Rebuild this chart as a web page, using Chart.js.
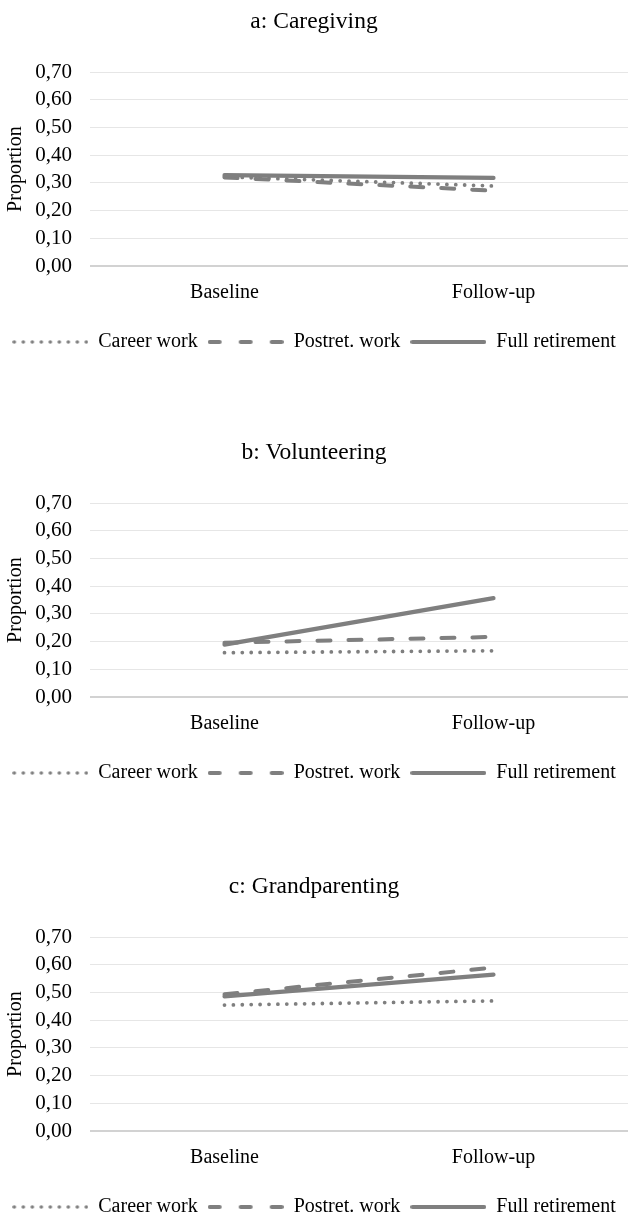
<!DOCTYPE html>
<html>
<head>
<meta charset="utf-8">
<script src="https://cdn.jsdelivr.net/npm/chart.js@4"></script>
<style>
  html, body { margin: 0; padding: 0; background: #fff; overflow: hidden; }
  .panel { position: absolute; left: 0; width: 628px; }
</style>
</head>
<body>
<div class="panel" style="top:0px"><canvas id="chartA" width="628" height="362"></canvas></div>
<div class="panel" style="top:431px"><canvas id="chartB" width="628" height="362"></canvas></div>
<div class="panel" style="top:865px"><canvas id="chartC" width="628" height="362"></canvas></div>
<script>
// data
const categories = ['Baseline', 'Follow-up'];
const seriesNames = ['Career work', 'Postret. work', 'Full retirement'];

const caregivingCareer = [0.322, 0.289];
const caregivingPostret = [0.320, 0.272];
const caregivingFull = [0.328, 0.318];

const volunteeringCareer = [0.160, 0.167];
const volunteeringPostret = [0.196, 0.217];
const volunteeringFull = [0.189, 0.357];

const grandparentingCareer = [0.455, 0.470];
const grandparentingPostret = [0.494, 0.590];
const grandparentingFull = [0.486, 0.565];

const yMin = 0;
const yMax = 0.7;
const yStep = 0.1;

const lineColor = '#7f7f7f';
const fontFamily = "'Liberation Serif', 'Times New Roman', serif";

// legend swatches drawn by hand so dots / dashes look like the original
function makeSwatch(kind) {
    const c = document.createElement('canvas');
    c.width = 76;
    c.height = 8;
    const g = c.getContext('2d');
    g.fillStyle = lineColor;
    g.strokeStyle = lineColor;
    if (kind === 'dot') {
        for (let i = 0; i < 9; i++) {
            g.beginPath();
            g.arc(2 + i * 9, 4, 1.8, 0, Math.PI * 2);
            g.fill();
        }
    } else if (kind === 'dash') {
        g.lineWidth = 4;
        g.lineCap = 'round';
        [[2, 12], [33, 43], [64, 74]].forEach(function(d) {
            g.beginPath();
            g.moveTo(d[0], 4);
            g.lineTo(d[1], 4);
            g.stroke();
        });
    } else {
        g.lineWidth = 4;
        g.lineCap = 'round';
        g.beginPath();
        g.moveTo(2, 4);
        g.lineTo(74, 4);
        g.stroke();
    }
    return c;
}

const swatches = [makeSwatch('dot'), makeSwatch('dash'), makeSwatch('solid')];

function makeChart(id, title, career, postret, full) {
    const ctx = document.getElementById(id).getContext('2d');
    return new Chart(ctx, {
        type: 'line',
        data: {
            labels: categories,
            datasets: [{
                label: seriesNames[0],
                data: career,
                borderColor: lineColor,
                borderWidth: 3.8,
                borderDash: [0, 8.9],
                borderCapStyle: 'round',
                order: 3
            }, {
                label: seriesNames[1],
                data: postret,
                borderColor: lineColor,
                borderWidth: 4,
                borderDash: [13, 18],
                borderCapStyle: 'round',
                order: 2
            }, {
                label: seriesNames[2],
                data: full,
                borderColor: lineColor,
                borderWidth: 4.2,
                borderCapStyle: 'round',
                order: 1
            }]
        },
        options: {
            responsive: false,
            animation: false,
            layout: { padding: 0 },
            elements: {
                point: { radius: 0 },
                line: { tension: 0, fill: false }
            },
            scales: {
                x: {
                    offset: true,
                    grid: { display: false },
                    border: { display: false },
                    ticks: {
                        color: '#000',
                        padding: 7,
                        font: { family: fontFamily, size: 20 }
                    },
                    afterFit: function(scale) { scale.height = 56; }
                },
                y: {
                    min: yMin,
                    max: yMax,
                    grid: {
                        drawTicks: false,
                        color: function(c) { return c.tick && c.tick.value === 0 ? '#d2d2d2' : '#e6e6e6'; },
                        lineWidth: function(c) { return c.tick && c.tick.value === 0 ? 2 : 1; }
                    },
                    border: { display: false },
                    ticks: {
                        stepSize: yStep,
                        autoSkip: false,
                        color: '#000',
                        padding: 18,
                        font: { family: fontFamily, size: 21 },
                        callback: function(v) { return v.toFixed(2).replace('.', ','); }
                    },
                    title: {
                        display: true,
                        text: 'Proportion',
                        color: '#000',
                        padding: { top: 4, bottom: 0 },
                        font: { family: fontFamily, size: 20 }
                    },
                    afterFit: function(scale) { scale.width = 90; }
                }
            },
            plugins: {
                title: {
                    display: true,
                    text: title,
                    color: '#000',
                    padding: { top: 8, bottom: 36 },
                    font: { family: fontFamily, size: 23.5, weight: 'normal' }
                },
                legend: {
                    position: 'bottom',
                    labels: {
                        color: '#000',
                        usePointStyle: true,
                        pointStyleWidth: 76,
                        boxHeight: 20,
                        padding: 10,
                        font: { family: fontFamily, size: 20 },
                        generateLabels: function(chart) {
                            return chart.data.datasets.map(function(ds, i) {
                                return {
                                    text: ds.label,
                                    datasetIndex: i,
                                    pointStyle: swatches[i],
                                    fillStyle: lineColor,
                                    strokeStyle: lineColor,
                                    lineWidth: 0,
                                    hidden: false,
                                    fontColor: '#000'
                                };
                            });
                        }
                    }
                },
                tooltip: { enabled: false }
            }
        }
    });
}

makeChart('chartA', 'a: Caregiving', caregivingCareer, caregivingPostret, caregivingFull);
makeChart('chartB', 'b: Volunteering', volunteeringCareer, volunteeringPostret, volunteeringFull);
makeChart('chartC', 'c: Grandparenting', grandparentingCareer, grandparentingPostret, grandparentingFull);
</script>
</body>
</html>
